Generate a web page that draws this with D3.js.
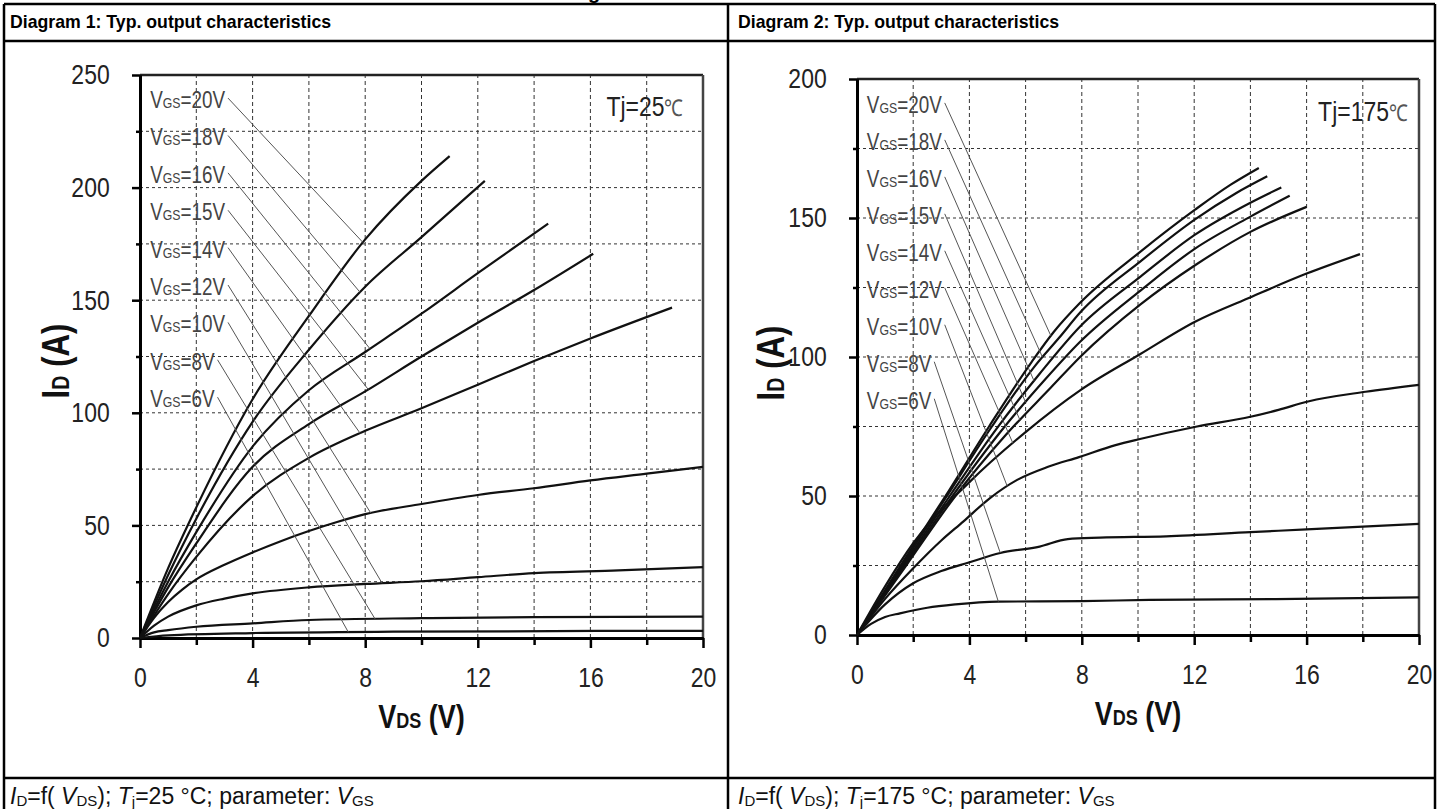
<!DOCTYPE html>
<html>
<head>
<meta charset="utf-8">
<script src="https://cdn.jsdelivr.net/npm/d3@7"></script>
<style>
  body { margin: 0; background: #fff; }
  svg text { font-family: "Liberation Sans", Arial, sans-serif; }
</style>
</head>
<body>
<svg id="page" width="1438" height="809"></svg>
<script>
// ---- data ----
const vgsLabels = ["20V", "18V", "16V", "15V", "14V", "12V", "10V", "8V", "6V"];
const xTicks = [0, 4, 8, 12, 16, 20];
const yTicks25 = [0, 50, 100, 150, 200, 250];
const yTicks175 = [0, 50, 100, 150, 200];

// Tj = 25 °C, [VDS, ID] per VGS (same order as vgsLabels)
const id25 = [
  [[0,0],[1,31],[2,58],[4,106],[6,143],[8,177],[10,203],[11,214]],
  [[0,0],[1,28],[2,53],[4,96],[6,128],[8,156],[10,178],[12.25,203]],
  [[0,0],[1,25],[2,47],[4,85],[6,110],[8,127],[10,144],[12,162],[14.5,184]],
  [[0,0],[1,22.5],[2,42],[4,76],[6,95],[8,109.5],[10,125],[12,140],[14,154.5],[16.1,170.6]],
  [[0,0],[1,19.5],[2,36],[4,63],[6,80],[8,92],[10,102],[12,112.5],[14,123],[16,133],[18.9,146.7]],
  [[0,0],[0.5,9],[1,16],[1.5,21.5],[2,26],[3,32.5],[4,38],[5,43],[6,47.5],[7,51.5],[8,55],[10,59.5],[12,63.5],[14,66.5],[16,70],[18,73],[20,76]],
  [[0,0],[0.5,5.5],[1,9.5],[2,14.5],[3,17.5],[4,19.8],[6,22.5],[8,24],[10,25.2],[12,27],[14,28.8],[17,30],[20,31.5]],
  [[0,0],[0.5,2.5],[1,3.5],[2,5],[4,6.5],[6,8],[10,8.8],[14,9.3],[20,9.5]],
  [[0,0],[1,1.2],[4,2.2],[9,2.8],[20,3.2]]
];
// VDS where each label's leader meets its curve
const leaderV25 = [7.92, 7.82, 8.17, 8.11, 7.82, 8.2, 8.6, 8.35, 7.4];

// Tj = 175 °C
const id175 = [
  [[0,0],[1.55,25],[3.15,50],[4.7,75],[6.2,98],[7.0,109],[7.94,119.5],[10.1,138],[12.03,153],[13.3,162],[14.3,168]],
  [[0,0],[1.6,25],[3.2,50],[4.8,75],[6.35,97],[7.2,107],[7.94,116],[10.1,134.5],[12.03,149.5],[13.5,159],[14.6,165]],
  [[0,0],[1.65,25],[3.3,50],[4.95,74],[6.5,94],[7.94,111],[10.1,129],[12.03,144],[14,155.5],[15.1,161]],
  [[0,0],[1.7,25],[3.4,50],[5.1,73],[6.7,92],[7.94,105.5],[10.1,124],[12.03,139],[14,150.5],[15.4,158]],
  [[0,0],[1.75,25],[3.5,50],[5.3,72],[6.9,89],[7.94,100],[10.1,119],[12.03,133],[14,145],[16,154]],
  [[0,0],[1,17.5],[2,33],[4,55],[6,73],[7.94,88],[10.07,101],[12.03,112.7],[14.05,121.7],[16,130],[17.9,137]],
  [[0,0],[1,13],[2,24],[3,34],[3.78,40.8],[4.7,49],[5.7,55.8],[6.8,60.5],[7.9,64],[9.2,68.3],[10.07,70.5],[12.1,75],[14,78.5],[15,81],[16.05,84],[18.1,87.5],[20,90]],
  [[0,0],[1,11],[2,18.6],[3,23],[3.95,26],[5.1,29.5],[6.5,31.8],[7.5,34.5],[8.65,35],[11,35.5],[14,37],[16,38],[20,40]],
  [[0,0],[0.5,4],[1,6.5],[1.53,7.8],[2.5,9.8],[3.5,11],[5.03,12],[8,12.2],[10.4,12.6],[14.9,12.9],[20,13.5]]
];
const leaderV175 = [6.9, 6.6, 6.3, 6.0, 5.8, 5.55, 5.35, 5.1, 5.03];

const NARROW = 0.82; // horizontal squeeze to mimic Arial Narrow

// ---- page ----
const svg = d3.select("#page");
svg.append("rect").attr("width", 1438).attr("height", 809).attr("fill", "#fff");

// clipped heading glyph above the table
svg.append("text").attr("x", 588).attr("y", -1)
  .attr("font-weight", "bold").attr("font-size", 20).text("g");

// table frame
const frame = svg.append("g").attr("stroke", "#000").attr("stroke-width", 2.5);
frame.append("line").attr("x1", 4).attr("x2", 1435).attr("y1", 4).attr("y2", 4);
frame.append("line").attr("x1", 4).attr("x2", 1435).attr("y1", 41).attr("y2", 41);
frame.append("line").attr("x1", 4).attr("x2", 1435).attr("y1", 778).attr("y2", 778);
frame.append("line").attr("x1", 4).attr("x2", 4).attr("y1", 4).attr("y2", 809);
frame.append("line").attr("x1", 728).attr("x2", 728).attr("y1", 4).attr("y2", 809);
frame.append("line").attr("x1", 1435).attr("x2", 1435).attr("y1", 4).attr("y2", 809);

const headers = [
  { x: 10, text: "Diagram 1: Typ. output characteristics" },
  { x: 738, text: "Diagram 2: Typ. output characteristics" }
];
svg.selectAll(".hdr").data(headers).join("text")
  .attr("class", "hdr")
  .attr("x", d => d.x).attr("y", 28)
  .attr("font-weight", "bold").attr("font-size", 17.7)
  .text(d => d.text);

// caption: ID=f(VDS); Tj=.. °C; parameter: VGS
function caption(x, temp) {
  const t = svg.append("text").attr("x", x).attr("y", 804).attr("font-size", 23).attr("fill", "#111");
  t.append("tspan").attr("font-style", "italic").text("I");
  t.append("tspan").attr("font-size", 15).attr("dy", 2).text("D");
  t.append("tspan").attr("dy", -2).text("=f( ");
  t.append("tspan").attr("font-style", "italic").text("V");
  t.append("tspan").attr("font-size", 15).attr("dy", 2).text("DS");
  t.append("tspan").attr("dy", -2).text("); ");
  t.append("tspan").attr("font-style", "italic").text("T");
  t.append("tspan").attr("font-size", 15).attr("dy", 3).text("j");
  t.append("tspan").attr("dy", -3).text("=" + temp + " °C; parameter:  ");
  t.append("tspan").attr("font-style", "italic").text("V");
  t.append("tspan").attr("font-size", 15).attr("dy", 2).text("GS");
}
caption(10, 25);
caption(738, 175);

// squeezed text placed at (x, y), optional rotation
function narrowText(parent, x, y, rot) {
  return parent.append("g")
    .attr("transform", `translate(${x},${y})` + (rot ? ` rotate(${rot})` : "") + ` scale(${NARROW},1)`)
    .append("text");
}

// ---- charts ----
function drawChart(cfg) {
  const x = d3.scaleLinear().domain([0, 20]).range([cfg.x0, cfg.x1]);
  const y = d3.scaleLinear().domain([0, cfg.ymax]).range([cfg.y0, cfg.y1]);
  const g = svg.append("g");

  // grid
  g.append("g").selectAll("line").data(d3.range(2, 20, 2)).join("line")
    .attr("x1", d => x(d)).attr("x2", d => x(d))
    .attr("y1", y(0)).attr("y2", y(cfg.ymax))
    .attr("stroke", "#333").attr("stroke-width", 1).attr("stroke-dasharray", "4,3");
  g.append("g").selectAll("line").data(d3.range(25, cfg.ymax, 25)).join("line")
    .attr("x1", x(0)).attr("x2", x(20))
    .attr("y1", d => y(d)).attr("y2", d => y(d))
    .attr("stroke", "#333").attr("stroke-width", 1).attr("stroke-dasharray", "3,3");

  // top and right border
  g.append("line").attr("x1", x(0)).attr("x2", x(20)).attr("y1", y(cfg.ymax)).attr("y2", y(cfg.ymax))
    .attr("stroke", "#222").attr("stroke-width", 2.5);
  g.append("line").attr("x1", x(20)).attr("x2", x(20)).attr("y1", y(0)).attr("y2", y(cfg.ymax))
    .attr("stroke", "#444").attr("stroke-width", 2.5);

  // axes
  const yAxis = g.append("g").attr("transform", `translate(${x(0)},0)`)
    .call(d3.axisLeft(y).tickValues(cfg.yTicks).tickSize(8).tickSizeOuter(0).tickPadding(29));
  const yMinor = g.append("g").attr("transform", `translate(${x(0)},0)`)
    .call(d3.axisLeft(y).tickValues(d3.range(25, cfg.ymax, 50)).tickSize(4).tickSizeOuter(0).tickFormat(""));
  const xAxis = g.append("g").attr("transform", `translate(0,${y(0)})`)
    .call(d3.axisBottom(x).tickValues(xTicks).tickSize(10).tickSizeOuter(0).tickPadding(19));
  const xMinor = g.append("g").attr("transform", `translate(0,${y(0)})`)
    .call(d3.axisBottom(x).tickValues([2, 6, 10, 14, 18]).tickSize(7).tickSizeOuter(0).tickFormat(""));

  [yAxis, yMinor, xAxis, xMinor].forEach(a => {
    a.select(".domain").attr("stroke", "#000").attr("stroke-width", 3);
    a.selectAll(".tick line").attr("stroke", "#000").attr("stroke-width", 2.5);
  });
  [yAxis, xAxis].forEach(a => {
    a.selectAll(".tick text")
      .attr("transform", `scale(${NARROW},1)`)
      .attr("font-family", "Liberation Sans, sans-serif")
      .attr("font-size", 28).attr("fill", "#222");
  });

  // curves
  const line = d3.line().x(d => x(d[0])).y(d => y(d[1])).curve(d3.curveMonotoneX);
  g.append("g").selectAll("path").data(cfg.curves).join("path")
    .attr("d", line).attr("fill", "none")
    .attr("stroke", "#111").attr("stroke-width", 2.2);

  // labels + leaders
  const interp = (pts, v) => {
    for (let k = 1; k < pts.length; k++) {
      if (v <= pts[k][0]) {
        const t = (v - pts[k - 1][0]) / (pts[k][0] - pts[k - 1][0]);
        return pts[k - 1][1] + t * (pts[k][1] - pts[k - 1][1]);
      }
    }
    return pts[pts.length - 1][1];
  };
  vgsLabels.forEach((lab, i) => {
    const bx = x(cfg.labelV);
    const by = y(cfg.labelI0 - i * cfg.labelStep);
    const t = narrowText(g, bx, by).attr("fill", "#444").attr("font-size", 23);
    t.append("tspan").text("V");
    t.append("tspan").attr("font-size", 15).text("GS");
    t.append("tspan").text("=" + lab);
    const bb = t.node().getBBox();
    const ev = cfg.leaderV[i];
    g.append("line")
      .attr("x1", bx + (bb.x + bb.width) * NARROW + 3).attr("y1", by - 10)
      .attr("x2", x(ev)).attr("y2", y(interp(cfg.curves[i], ev)))
      .attr("stroke", "#555").attr("stroke-width", 1);
  });

  // temperature note
  const tj = narrowText(g, x(cfg.tjV), y(cfg.tjI))
    .attr("text-anchor", "end").attr("font-size", 28).attr("fill", "#222");
  tj.append("tspan").text(cfg.tj);
  tj.append("tspan").attr("font-size", 23).attr("fill", "#555").text("℃");

  // axis titles
  const xt = narrowText(g, (x(0) + x(20)) / 2, y(0) + 90)
    .attr("text-anchor", "middle").attr("font-weight", "bold").attr("font-size", 33).attr("fill", "#111");
  xt.append("tspan").text("V");
  xt.append("tspan").attr("font-size", 22).text("DS");
  xt.append("tspan").text(" (V)");

  const yt = narrowText(g, cfg.ytX, cfg.ytY, -90)
    .attr("text-anchor", "middle").attr("font-weight", "bold").attr("font-size", 38).attr("fill", "#111");
  yt.append("tspan").text("I");
  yt.append("tspan").attr("font-size", 24).text("D");
  yt.append("tspan").text(" (A)");
}

drawChart({
  x0: 140, x1: 703, y0: 638, y1: 75, ymax: 250, yTicks: yTicks25,
  curves: id25, leaderV: leaderV25,
  labelV: 0.36, labelI0: 235.3, labelStep: 16.6,
  tj: "Tj=25", tjV: 19.3, tjI: 232,
  ytX: 69, ytY: 361
});
drawChart({
  x0: 857, x1: 1419, y0: 635, y1: 79, ymax: 200, yTicks: yTicks175,
  curves: id175, leaderV: leaderV175,
  labelV: 0.35, labelI0: 187.8, labelStep: 13.3,
  tj: "Tj=175", tjV: 19.6, tjI: 185,
  ytX: 784, ytY: 363
});
</script>
</body>
</html>
